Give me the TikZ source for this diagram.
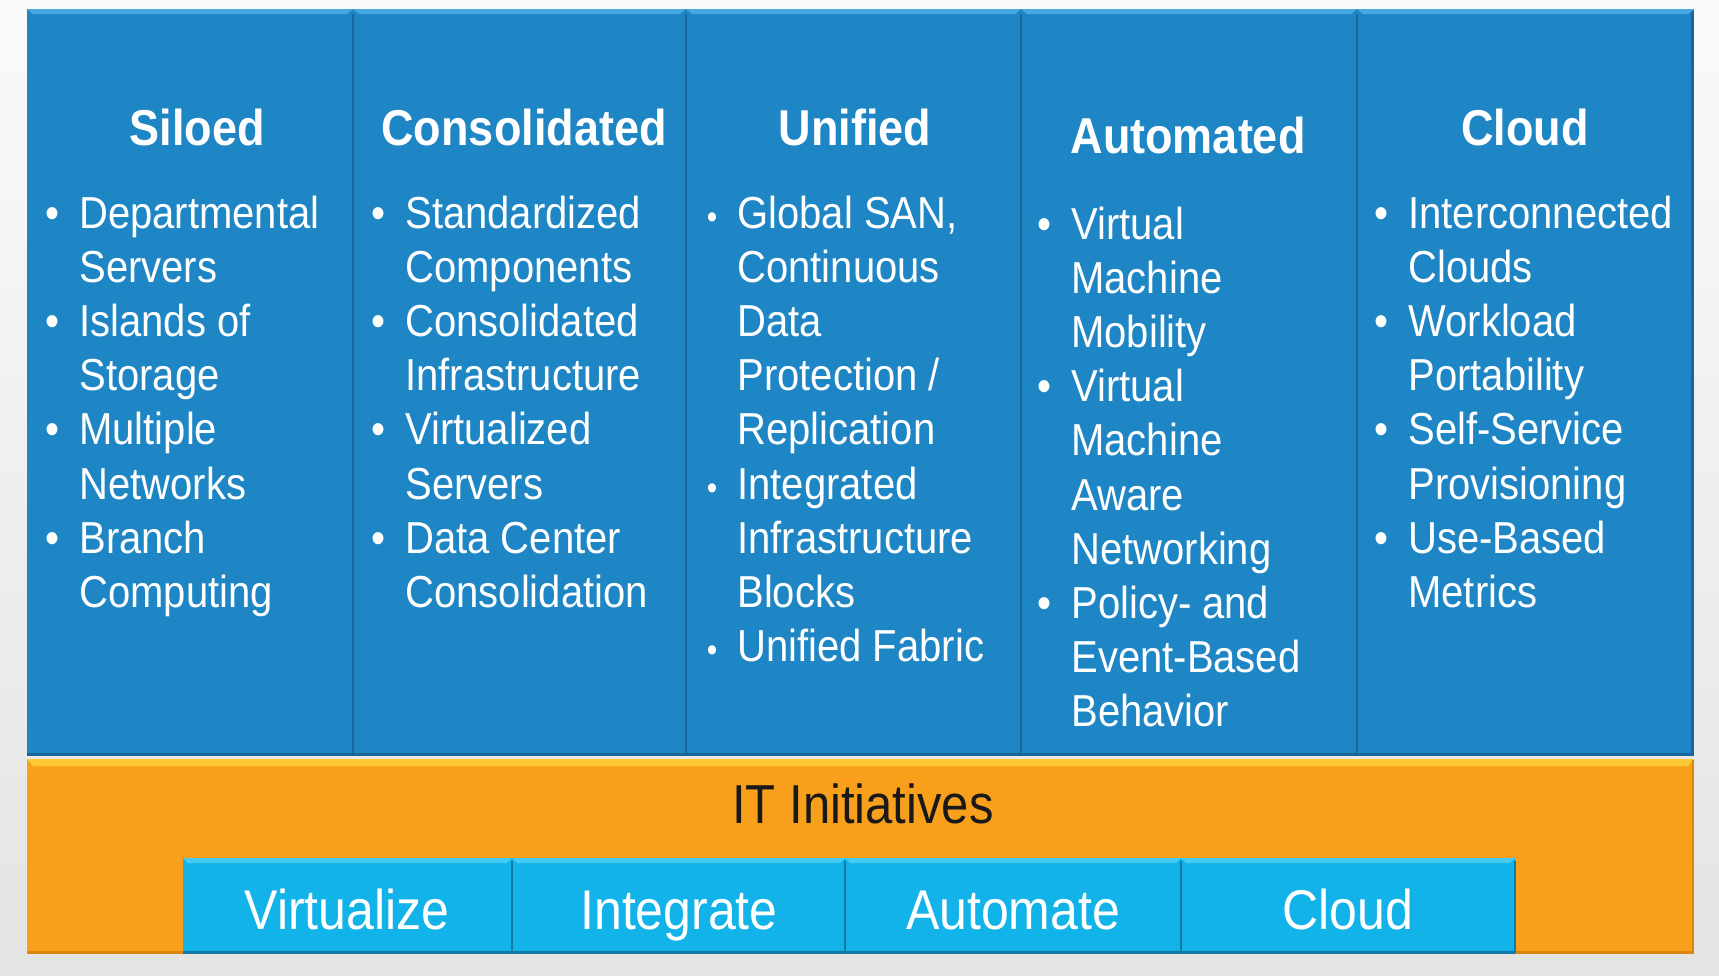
\documentclass[tikz,border=0pt]{standalone}
\usepackage{fontspec}
\setmainfont{Liberation Sans}
\definecolor{bgtop}{HTML}{FAFAFA}
\definecolor{bgbot}{HTML}{E4E4E4}
\definecolor{colblue}{HTML}{1F86C6}
\definecolor{colbluelight}{HTML}{48A8E0}
\definecolor{colbluedark}{HTML}{17679A}
\definecolor{orangefill}{HTML}{F8A01B}
\definecolor{orangelight}{HTML}{FCC935}
\definecolor{orangedark}{HTML}{D9860E}
\definecolor{cyanfill}{HTML}{12B3E8}
\definecolor{cyanlight}{HTML}{45CBF2}
\definecolor{cyandark}{HTML}{0E78A6}
\newcommand{\bul}{\llap{\textbullet\hspace{10pt}}}
\newcommand{\sbul}{\llap{\scalebox{0.75}{\textbullet}\hspace{10pt}}}
\newcommand{\tallx}[1]{\scalebox{1}[1.12]{#1}}
\newcommand{\collist}[1]{\tallx{\begin{tabular}[t]{@{}l@{}}#1\end{tabular}}}
\tikzset{
  colbox/.style={fill=colblue, draw=none},
  bevelblue/.style={fill=colbluelight},
  divider/.style={draw=colbluedark, line width=1.2pt},
  header/.style={text=white, anchor=base, inner sep=0pt, font=\fontsize{22.5}{27}\bfseries},
  listtext/.style={text=white, anchor=base west, inner sep=0pt, font=\fontsize{20}{24.2}\selectfont},
  cyanbox/.style={fill=cyanfill, draw=none},
  boxlabel/.style={text=white, anchor=base, inner sep=0pt, font=\fontsize{25}{30}\selectfont},
}
\begin{document}
\begin{tikzpicture}[x=0.5pt,y=-0.5pt]
\useasboundingbox (0,0) rectangle (1719,975);
\path[top color=bgtop, bottom color=bgbot] (0,0) rectangle (1719,975);
% blue columns
\foreach \xa/\xb [count=\i] in {27/353,353/686,686/1021,1021/1357,1357/1694}{
  \path[colbox] (\xa,9) rectangle (\xb,755);
  \path[bevelblue] (\xa,9) -- (\xb,9) -- (\xb-6,14) -- (\xa+6,14) -- cycle;
}
\foreach \xx in {353,686,1021,1357}{
  \draw[divider] (\xx,14) -- (\xx,755);
}
\draw[draw=colbluedark, line width=1.5pt] (1692,12) -- (1692,755);
\draw[draw=colbluedark, line width=1.5pt] (27,754) -- (1694,754);
% orange bar
\path[fill=orangefill] (27,759) rectangle (1694,953);
\path[fill=orangelight] (27,759) -- (1694,759) -- (1688,766) -- (33,766) -- cycle;
\draw[draw=orangedark, line width=1.5pt] (27,952) -- (1694,952);
\draw[draw=orangedark, line width=1.2pt] (1693,760) -- (1693,953);
% cyan boxes
\foreach \xa/\xb in {183/512,512/845,845/1181,1181/1515}{
  \path[cyanbox] (\xa,858) rectangle (\xb,953);
  \path[fill=cyanlight] (\xa,858) -- (\xb,858) -- (\xb-5,863) -- (\xa+5,863) -- cycle;
}
\foreach \xx in {512,845,1181,1515}{
  \draw[draw=cyandark, line width=1.2pt] (\xx,861) -- (\xx,953);
}
\draw[draw=cyandark, line width=1.5pt] (183,952) -- (1515,952);
% headers
\node[header] (h1) at (197,145) {\tallx{Siloed}};
\node[header] (h2) at (524,145) {\tallx{Consolidated}};
\node[header] (h3) at (855,145) {\tallx{Unified}};
\node[header] (h4) at (1188,153) {\tallx{Automated}};
\node[header] (h5) at (1525,145) {\tallx{Cloud}};
% lists
\node[listtext] (l1) at (79,228) {\collist{\bul Departmental\\ Servers\\ \bul Islands of\\ Storage\\ \bul Multiple\\ Networks\\ \bul Branch\\ Computing}};
\node[listtext] (l2) at (405,228) {\collist{\bul Standardized\\ Components\\ \bul Consolidated\\ Infrastructure\\ \bul Virtualized\\ Servers\\ \bul Data Center\\ Consolidation}};
\node[listtext] (l3) at (737,228) {\collist{\sbul Global SAN,\\ Continuous\\ Data\\ Protection /\\ Replication\\ \sbul Integrated\\ Infrastructure\\ Blocks\\ \sbul Unified Fabric}};
\node[listtext] (l4) at (1071,239) {\collist{\bul Virtual\\ Machine\\ Mobility\\ \bul Virtual\\ Machine\\ Aware\\ Networking\\ \bul Policy- and\\ Event-Based\\ Behavior}};
\node[listtext] (l5) at (1408,228) {\collist{\bul Interconnected\\ Clouds\\ \bul Workload\\ Portability\\ \bul Self-Service\\ Provisioning\\ \bul Use-Based\\ Metrics}};
% IT initiatives
\node[anchor=base, inner sep=0pt, text=black!90, font=\fontsize{24.5}{29}\selectfont] (it) at (863,823) {\tallx{IT Initiatives}};
\node[boxlabel] (b1) at (347,929) {\tallx{Virtualize}};
\node[boxlabel] (b2) at (679,929) {\tallx{Integrate}};
\node[boxlabel] (b3) at (1013,929) {\tallx{Automate}};
\node[boxlabel] (b4) at (1348,929) {\tallx{Cloud}};
\end{tikzpicture}
\end{document}
